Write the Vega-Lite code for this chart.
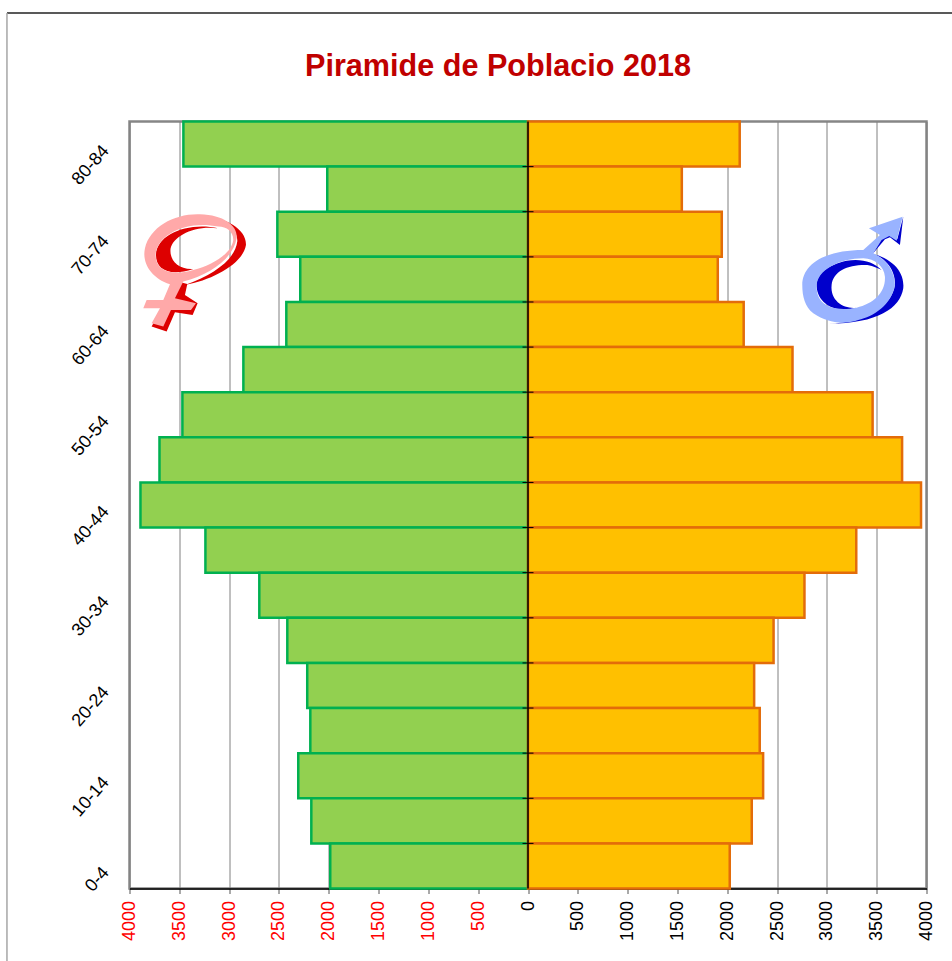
{"$schema":"https://vega.github.io/schema/vega-lite/v6.json","width":797,"height":767,"autosize":"none","padding":{"left":129.5,"top":121.5,"right":25.5,"bottom":72.5},"background":"white","title":{"text":"Piramide de Poblacio 2018","color":"#C00000","font":"Liberation Sans","fontWeight":"bold","fontSize":30.6,"dx":-30,"offset":-70,"anchor":"middle"},"config":{"view":{"stroke":"#868686","strokeWidth":2.5},"font":"Liberation Sans"},"datasets":{"piramide":[{"edat":"80-84","sexe":"Dones","poblacio":-3459},{"edat":"75-79","sexe":"Dones","poblacio":-2015},{"edat":"70-74","sexe":"Dones","poblacio":-2516},{"edat":"65-69","sexe":"Dones","poblacio":-2286},{"edat":"60-64","sexe":"Dones","poblacio":-2426},{"edat":"55-59","sexe":"Dones","poblacio":-2857},{"edat":"50-54","sexe":"Dones","poblacio":-3469},{"edat":"45-49","sexe":"Dones","poblacio":-3699},{"edat":"40-44","sexe":"Dones","poblacio":-3890},{"edat":"35-39","sexe":"Dones","poblacio":-3238},{"edat":"30-34","sexe":"Dones","poblacio":-2697},{"edat":"25-29","sexe":"Dones","poblacio":-2416},{"edat":"20-24","sexe":"Dones","poblacio":-2216},{"edat":"15-19","sexe":"Dones","poblacio":-2185},{"edat":"10-14","sexe":"Dones","poblacio":-2306},{"edat":"5-9","sexe":"Dones","poblacio":-2175},{"edat":"0-4","sexe":"Dones","poblacio":-1985},{"edat":"80-84","sexe":"Homes","poblacio":2125},{"edat":"75-79","sexe":"Homes","poblacio":1544},{"edat":"70-74","sexe":"Homes","poblacio":1945},{"edat":"65-69","sexe":"Homes","poblacio":1905},{"edat":"60-64","sexe":"Homes","poblacio":2165},{"edat":"55-59","sexe":"Homes","poblacio":2655},{"edat":"50-54","sexe":"Homes","poblacio":3459},{"edat":"45-49","sexe":"Homes","poblacio":3755},{"edat":"40-44","sexe":"Homes","poblacio":3945},{"edat":"35-39","sexe":"Homes","poblacio":3295},{"edat":"30-34","sexe":"Homes","poblacio":2775},{"edat":"25-29","sexe":"Homes","poblacio":2465},{"edat":"20-24","sexe":"Homes","poblacio":2270},{"edat":"15-19","sexe":"Homes","poblacio":2326},{"edat":"10-14","sexe":"Homes","poblacio":2360},{"edat":"5-9","sexe":"Homes","poblacio":2246},{"edat":"0-4","sexe":"Homes","poblacio":2025}]},"layer":[{"data":{"name":"piramide"},"mark":{"type":"bar","strokeWidth":2.5,"orient":"horizontal"},"encoding":{"x":{"field":"poblacio","type":"quantitative","title":null,"scale":{"domain":[-4000,4000],"nice":false},"axis":{"values":[-4000,-3500,-3000,-2500,-2000,-1500,-1000,-500,0,500,1000,1500,2000,2500,3000,3500,4000],"labelExpr":"abs(datum.value)","labelAngle":-90,"labelAlign":"right","labelBaseline":"middle","labelFontSize":18,"labelFont":"Liberation Sans","labelPadding":7,"labelColor":{"condition":{"test":"datum.value<0","value":"#FF0000"},"value":"#000000"},"labelOverlap":false,"labelFlush":false,"tickColor":"#555555","tickSize":5,"domainColor":"#000000","domainWidth":1.5,"grid":true,"gridColor":"#808080","gridWidth":1}},"y":{"field":"edat","type":"ordinal","title":null,"sort":{"field":"ordre"},"scale":{"domain":["80-84","75-79","70-74","65-69","60-64","55-59","50-54","45-49","40-44","35-39","30-34","25-29","20-24","15-19","10-14","5-9","0-4"],"paddingInner":0,"paddingOuter":0},"axis":{"values":["80-84","70-74","60-64","50-54","40-44","30-34","20-24","10-14","0-4"],"labelAngle":-49,"labelAlign":"right","labelBaseline":"middle","labelFontSize":18,"labelFont":"Liberation Sans","labelColor":"#000000","labelPadding":24,"labelOffset":4,"ticks":false,"domain":false,"grid":false,"labelOverlap":false}},"fill":{"field":"sexe","type":"nominal","legend":null,"scale":{"domain":["Dones","Homes"],"range":["#92D050","#FFC000"]}},"stroke":{"field":"sexe","type":"nominal","legend":null,"scale":{"domain":["Dones","Homes"],"range":["#00B050","#E36C0A"]}}}},{"data":{"values":[{"p":0,"b":0,"h":1}]},"mark":{"type":"rule","color":"#000000","strokeWidth":1.5,"clip":false},"encoding":{"x":{"field":"p","type":"quantitative"},"y":{"field":"b","type":"quantitative","axis":null,"scale":{"domain":[0,1],"nice":false}},"y2":{"field":"h"}}},{"data":{"values":[{"p":0,"t":0.0588},{"p":0,"t":0.1176},{"p":0,"t":0.1765},{"p":0,"t":0.2353},{"p":0,"t":0.2941},{"p":0,"t":0.3529},{"p":0,"t":0.4118},{"p":0,"t":0.4706},{"p":0,"t":0.5294},{"p":0,"t":0.5882},{"p":0,"t":0.6471},{"p":0,"t":0.7059},{"p":0,"t":0.7647},{"p":0,"t":0.8235},{"p":0,"t":0.8824},{"p":0,"t":0.9412}]},"mark":{"type":"tick","orient":"horizontal","color":"#000000","size":11,"thickness":1,"opacity":1},"encoding":{"x":{"field":"p","type":"quantitative"},"y":{"field":"t","type":"quantitative","axis":null,"scale":{"domain":[0,1],"nice":false}}}},{"data":{"values":[{"a":-5230,"b":4300,"c":1.1414}]},"mark":{"type":"rule","color":"#222222","strokeWidth":1.5,"clip":false},"encoding":{"x":{"field":"a","type":"quantitative"},"x2":{"field":"b"},"y":{"field":"c","type":"quantitative","axis":null,"scale":{"domain":[0,1],"nice":false}}}},{"data":{"values":[{"a":-5230,"b":1.1414,"c":-0.1}]},"mark":{"type":"rule","color":"#A6A6A6","strokeWidth":1.5,"clip":false},"encoding":{"x":{"field":"a","type":"quantitative"},"y":{"field":"b","type":"quantitative","axis":null,"scale":{"domain":[0,1],"nice":false}},"y2":{"field":"c"}}},{"data":{"values":[{"part":"f1","px":-3343,"py":0.8347},{"part":"f2","px":-3343,"py":0.8347},{"part":"f3","px":-3343,"py":0.8347},{"part":"f4","px":-3343,"py":0.8347},{"part":"m1","px":3265,"py":0.8064},{"part":"m2","px":3265,"py":0.8064},{"part":"m3","px":3265,"py":0.8064},{"part":"m4","px":3265,"py":0.8064}]},"mark":{"type":"point","filled":true,"opacity":1,"size":0.4444,"strokeWidth":0,"clip":false},"encoding":{"x":{"field":"px","type":"quantitative"},"y":{"field":"py","type":"quantitative","axis":null,"scale":{"domain":[0,1],"nice":false}},"order":{"field":"part"},"fill":{"field":"part","type":"nominal","legend":null,"scale":{"domain":["f1","f2","f3","f4","m1","m2","m3","m4"],"range":["#DD0000","#DD0000","#DD0000","#FFA9A9","#0000CC","#0000CC","#0000CC","#99B3FF"]}},"shape":{"field":"part","type":"nominal","legend":null,"scale":{"domain":["f1","f2","f3","f4","m1","m2","m3","m4"],"range":["M-40,103L-23,107L-30,140L8,165L-7,200L-60,192L-85,250L-130,235L-100,180L-65,155Z","M15,-95C95,-95 155,-55 153,-10C145,45 55,95 -30,110C55,80 120,35 127,-20C130,-55 85,-95 15,-95Z","M70,-60C-15,-80 -115,-45 -117,20C-117,65 -75,85 -5,62C-50,65 -78,35 -73,0C-65,-35 -5,-70 70,-60Z","M-75,108C-130,90 -160,45 -150,0C-135,-65 -60,-105 15,-102C90,-100 130,-65 125,-30C115,30 45,80 -35,100L-60,150L3,165L-12,185L-72,185L-95,235L-130,225L-105,180L-155,180L-145,155L-95,155ZM70,-65C-25,-85 -115,-40 -118,20C-118,65 -75,85 -5,65C55,50 110,15 115,-25C115,-50 95,-65 70,-65Z","M58,-48L95,-92L110,-98L140,-75L150,-160L132,-92L108,-108L85,-95Z","M60,-48C110,-35 155,0 150,55C140,115 75,160 -75,162C40,155 115,110 125,45C128,5 100,-35 60,-48Z","M85,0C60,-25 25,-35 -20,-28C-75,-15 -112,10 -110,50C-105,105 -50,130 10,113C-25,118 -70,95 -65,45C-60,5 -20,-15 35,-15C55,-15 70,-7 85,0Z","M-153,45C-153,-15 -90,-60 30,-60L80,-105L47,-125L148,-160L130,-88L108,-102L85,-90L60,-50C105,-30 125,10 125,45C115,105 60,140 15,150C-30,165 -75,160 -120,130C-145,110 -153,80 -153,45ZM30,-35C-40,-35 -110,0 -110,50C-110,100 -70,127 10,113C60,100 97,70 95,20C93,-10 65,-35 30,-35Z"]}}}}],"resolve":{"scale":{"y":"independent","fill":"independent"},"axis":{"y":"independent"}}}
